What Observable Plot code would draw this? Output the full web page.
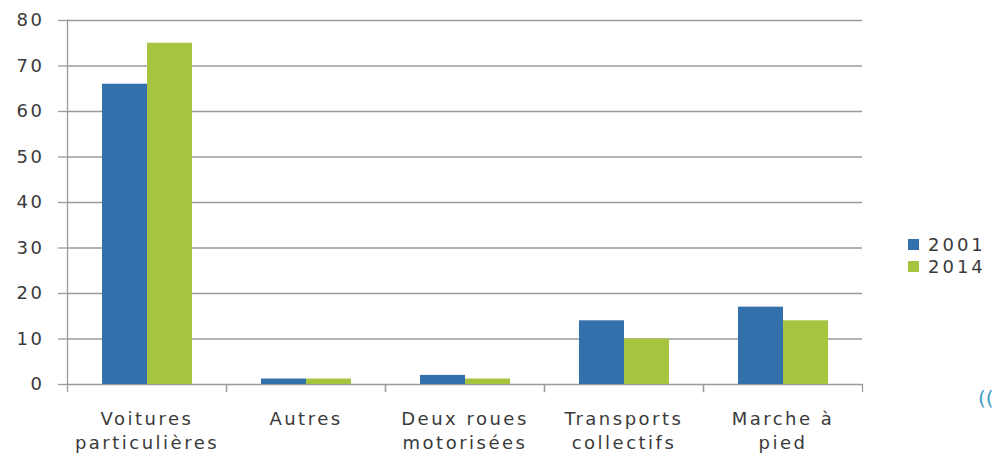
<!DOCTYPE html>
<html>
<head>
<meta charset="utf-8">
<script src="https://cdn.jsdelivr.net/npm/d3@7"></script>
<script src="https://cdn.jsdelivr.net/npm/@observablehq/plot@0.6"></script>
<style>
  html, body { margin: 0; padding: 0; background: #fff; }
  #chart { position: relative; width: 995px; height: 461px; overflow: hidden; font-family: "DejaVu Sans", sans-serif; }
  #legend { position: absolute; left: 908px; top: 234px; }
  #mark { position: absolute; left: 978px; top: 386px; font-size: 20px; color: #3f9cc0; font-family: "DejaVu Sans", sans-serif; }
</style>
</head>
<body>
<div id="chart"><div id="legend"></div><div id="mark">((</div></div>
<script>
const categories = ["Voitures\nparticulières", "Autres", "Deux roues\nmotorisées", "Transports\ncollectifs", "Marche à\npied"];
const years = ["2001", "2014"];
const values2001 = [66, 1.2, 2, 14, 17];
const values2014 = [75, 1.2, 1.2, 10, 14];
const yTicks = [0, 10, 20, 30, 40, 50, 60, 70, 80];
const colors = ["#3470ab", "#a6c440"];

const data = [];
categories.forEach((c, i) => {
  data.push({cat: c, year: years[0], value: values2001[i]});
  data.push({cat: c, year: years[1], value: values2014[i]});
});

const gray = "#9a9a9a";
const textColor = "#3a3a3a";

const chart = Plot.plot({
  width: 995,
  height: 461,
  marginLeft: 66,
  marginRight: 133,
  marginTop: 20,
  marginBottom: 77,
  style: {fontFamily: "DejaVu Sans, sans-serif", fontSize: "18px", color: textColor, letterSpacing: "2.5px"},
  fx: {domain: categories, padding: 0, label: null},
  x: {domain: years, paddingInner: 0, paddingOuter: 0.73, axis: null},
  y: {domain: [0, 80], label: null},
  color: {domain: years, range: colors},
  marks: [
    Plot.gridY(yTicks, {stroke: gray, strokeOpacity: 1, strokeWidth: 1.3}),
    Plot.barY(data, {fx: "cat", x: "year", y: "value", fill: "year"}),
    Plot.frame({anchor: "left", stroke: gray, strokeWidth: 1.3, insetTop: 364, insetBottom: -7}),
    Plot.frame({anchor: "right", stroke: gray, strokeWidth: 1.3, insetTop: 364, insetBottom: -7}),
    Plot.frame({anchor: "left", facetAnchor: "left", stroke: gray, strokeWidth: 1.3}),
    Plot.axisY({ticks: yTicks, tickSize: 9, tickPadding: 14, fontSize: 18, stroke: gray, strokeWidth: 1.3, fill: textColor, label: null}),
    Plot.axisFx({anchor: "bottom", tickSize: 0, tickPadding: 24, fontSize: 18, lineHeight: 1.3, fill: textColor, label: null})
  ]
});
document.getElementById("chart").prepend(chart);

const legend = Plot.legend({
  color: {domain: years, range: colors},
  legend: "swatches",
  columns: 1,
  swatchSize: 11,
  style: {fontFamily: "DejaVu Sans, sans-serif", fontSize: "18px", color: textColor, letterSpacing: "3px", lineHeight: "21px"}
});
document.getElementById("legend").appendChild(legend);
</script>
</body>
</html>
